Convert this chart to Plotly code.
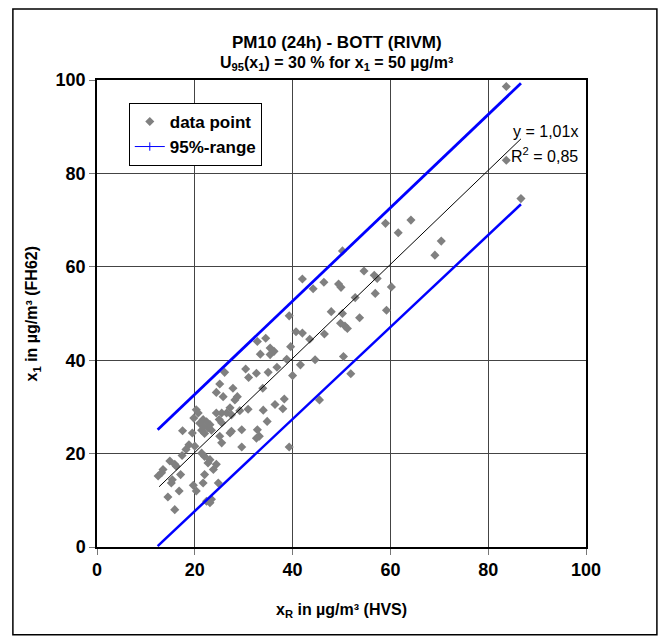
import plotly.graph_objects as go

# Paired daily PM10 values: reference sampler (HVS) vs candidate (FH62)
x_ref = [83.7, 83.7, 86.7,
         59.0, 64.2, 61.6, 70.4, 69.1, 50.2,
         54.6, 56.7, 57.3, 42.0, 46.4, 44.2, 49.4, 49.9, 60.2, 56.9, 52.8, 47.9,
         50.2, 53.7, 59.2, 49.8, 50.7, 51.2,
         39.3, 40.7, 42.0, 34.5, 32.8, 43.5, 46.5, 35.4, 36.2, 35.4, 33.4, 39.6,
         38.8,
         50.4, 51.9, 44.6, 41.6, 40.0, 45.5, 39.3,
         30.4, 31.0, 32.6, 35.0, 36.8, 26.1, 25.1, 24.4, 25.8, 27.8, 28.7, 28.2,
         33.9, 38.3, 36.4, 38.0, 34.0, 30.9, 29.2, 27.2, 27.5, 24.4, 25.5, 26.5,
         20.3, 20.7, 19.8,
         21.0, 21.7, 22.4, 22.7, 23.1, 21.4, 22.0, 23.4, 21.7,
         25.0, 25.5, 27.5, 27.2, 29.6, 32.8, 33.2, 32.6, 34.8, 29.6, 25.1, 25.5,
         17.5, 19.5, 18.2, 18.8, 20.0, 17.4, 22.0, 22.7, 23.1, 24.4, 21.4,
         14.9, 15.9, 16.2, 13.5, 12.5, 13.2, 17.1, 15.4, 15.2, 19.7, 20.3, 21.7,
         22.0, 24.8, 23.8, 14.5, 16.8, 15.9, 22.4, 23.1, 23.4]
x_cand = [98.6, 82.8, 74.6,
          69.3, 70.0, 67.3, 65.5, 62.5, 63.4,
          59.1, 58.2, 57.5, 57.4, 56.7, 55.3, 56.3, 55.6, 55.7, 54.3, 53.4, 50.4,
          50.0, 49.1, 50.7, 47.9, 47.3, 46.8,
          49.5, 46.1, 45.8, 44.7, 44.0, 44.5, 45.6, 42.6, 41.9, 41.2, 41.3, 42.9,
          40.2,
          40.8, 37.1, 40.1, 39.0, 36.7, 31.5, 21.4,
          38.1, 36.3, 37.2, 37.4, 38.5, 37.4, 34.9, 33.1, 32.2, 34.0, 32.2, 31.5,
          34.0, 31.7, 30.5, 29.6, 29.3, 29.5, 29.2, 29.8, 28.3, 28.7, 28.7, 28.7,
          29.4, 28.7, 27.6,
          26.5, 25.8, 26.8, 25.5, 26.2, 25.0, 24.3, 25.0, 27.3,
          27.3, 26.6, 24.8, 24.4, 25.1, 25.1, 23.7, 23.3, 26.9, 21.4, 23.7, 22.3,
          24.9, 24.4, 20.9, 21.9, 21.6, 19.6, 19.4, 18.0, 18.7, 17.7, 20.1,
          18.4, 17.7, 17.3, 16.6, 15.2, 15.9, 15.5, 14.4, 13.7, 13.2, 12.0, 13.7,
          15.5, 13.7, 16.6, 10.7, 12.0, 8.0, 9.8, 9.5, 10.2]

# Regression through the origin (y = 1,01x) and the 95 % band, as end points
fit_x = [12.7, 86.7]
fit_y = [12.9, 87.4]
band_x = [12.4, 86.7]
band_upper = [25.1, 99.3]
band_lower = [0.2, 73.4]

# Axis ticks
tick_vals = [0, 20, 40, 60, 80, 100]
tick_text = ["0", "20", "40", "60", "80", "100"]

BLUE = "#0000FF"
GREY = "#808080"
FONT = "Arial, Liberation Sans, sans-serif"

fig = go.Figure()

fig.add_trace(go.Scatter(
    x=x_ref, y=x_cand, mode="markers", name="data point",
    marker=dict(symbol="diamond", size=7, color=GREY),
))
fig.add_trace(go.Scatter(
    x=fit_x, y=fit_y, mode="lines", showlegend=False,
    line=dict(color="black", width=1),
))
fig.add_trace(go.Scatter(
    x=band_x, y=band_upper, mode="lines", showlegend=False,
    line=dict(color=BLUE, width=2.8),
))
fig.add_trace(go.Scatter(
    x=band_x, y=band_lower, mode="lines", showlegend=False,
    line=dict(color=BLUE, width=2.5),
))
# legend entry for the band (thin line with tick markers)
fig.add_trace(go.Scatter(
    x=[None], y=[None], mode="lines+markers", name="95%-range",
    line=dict(color=BLUE, width=1),
    marker=dict(symbol="line-ns", size=6, line=dict(color=BLUE, width=1)),
))

axis_common = dict(
    range=[0, 100], tickmode="array", tickvals=tick_vals,
    ticktext=["<b>%s</b>" % t for t in tick_text],
    showgrid=True, gridcolor="#444444", gridwidth=1,
    showline=True, linecolor="black", linewidth=1.5, mirror=True,
    ticks="outside", ticklen=6, tickcolor="#777777",
    tickfont=dict(family=FONT, size=18, color="black"),
    zeroline=False,
)

fig.update_layout(
    width=660, height=637,
    margin=dict(l=97, r=74, t=80, b=90),
    paper_bgcolor="white", plot_bgcolor="white",
    font=dict(family=FONT, color="black"),
    xaxis=dict(**axis_common),
    yaxis=dict(**axis_common),
    showlegend=True,
    legend=dict(
        x=0.065, y=0.951, xanchor="left", yanchor="top",
        bgcolor="white", bordercolor="black", borderwidth=1,
        font=dict(family=FONT, size=17, color="black", weight="bold"),
        tracegroupgap=0, itemwidth=30,
    ),
)

# outer chart frame
fig.add_shape(type="rect", xref="paper", yref="paper",
              x0=-0.172, x1=1.145, y0=-0.188, y1=1.152,
              line=dict(color="black", width=1.5), layer="below")

annotations = [
    dict(text="<b>PM10 (24h) - BOTT (RIVM)</b>", x=0.49, y=1.081,
         font=dict(size=17)),
    dict(text="<b>U<sub>95</sub>(x<sub>1</sub>) = 30 % for x<sub>1</sub> = 50 µg/m³</b>",
         x=0.49, y=1.036, font=dict(size=16)),
    dict(text="<b>x<sub>R</sub> in µg/m³ (HVS)</b>", x=0.5, y=-0.135,
         font=dict(size=16)),
    dict(text="<b>x<sub>1</sub> in µg/m³ (FH62)</b>", x=-0.131, y=0.5,
         textangle=-90, font=dict(size=16)),
    dict(text="y = 1,01x", x=0.988, y=0.889, xanchor="right",
         font=dict(size=16)),
    dict(text="R<sup>2</sup> = 0,85", x=0.988, y=0.839, xanchor="right",
         font=dict(size=16)),
]
for a in annotations:
    a.setdefault("xanchor", "center")
    fig.add_annotation(xref="paper", yref="paper", showarrow=False,
                       yanchor="middle", **a)

fig.write_html("out.html")
